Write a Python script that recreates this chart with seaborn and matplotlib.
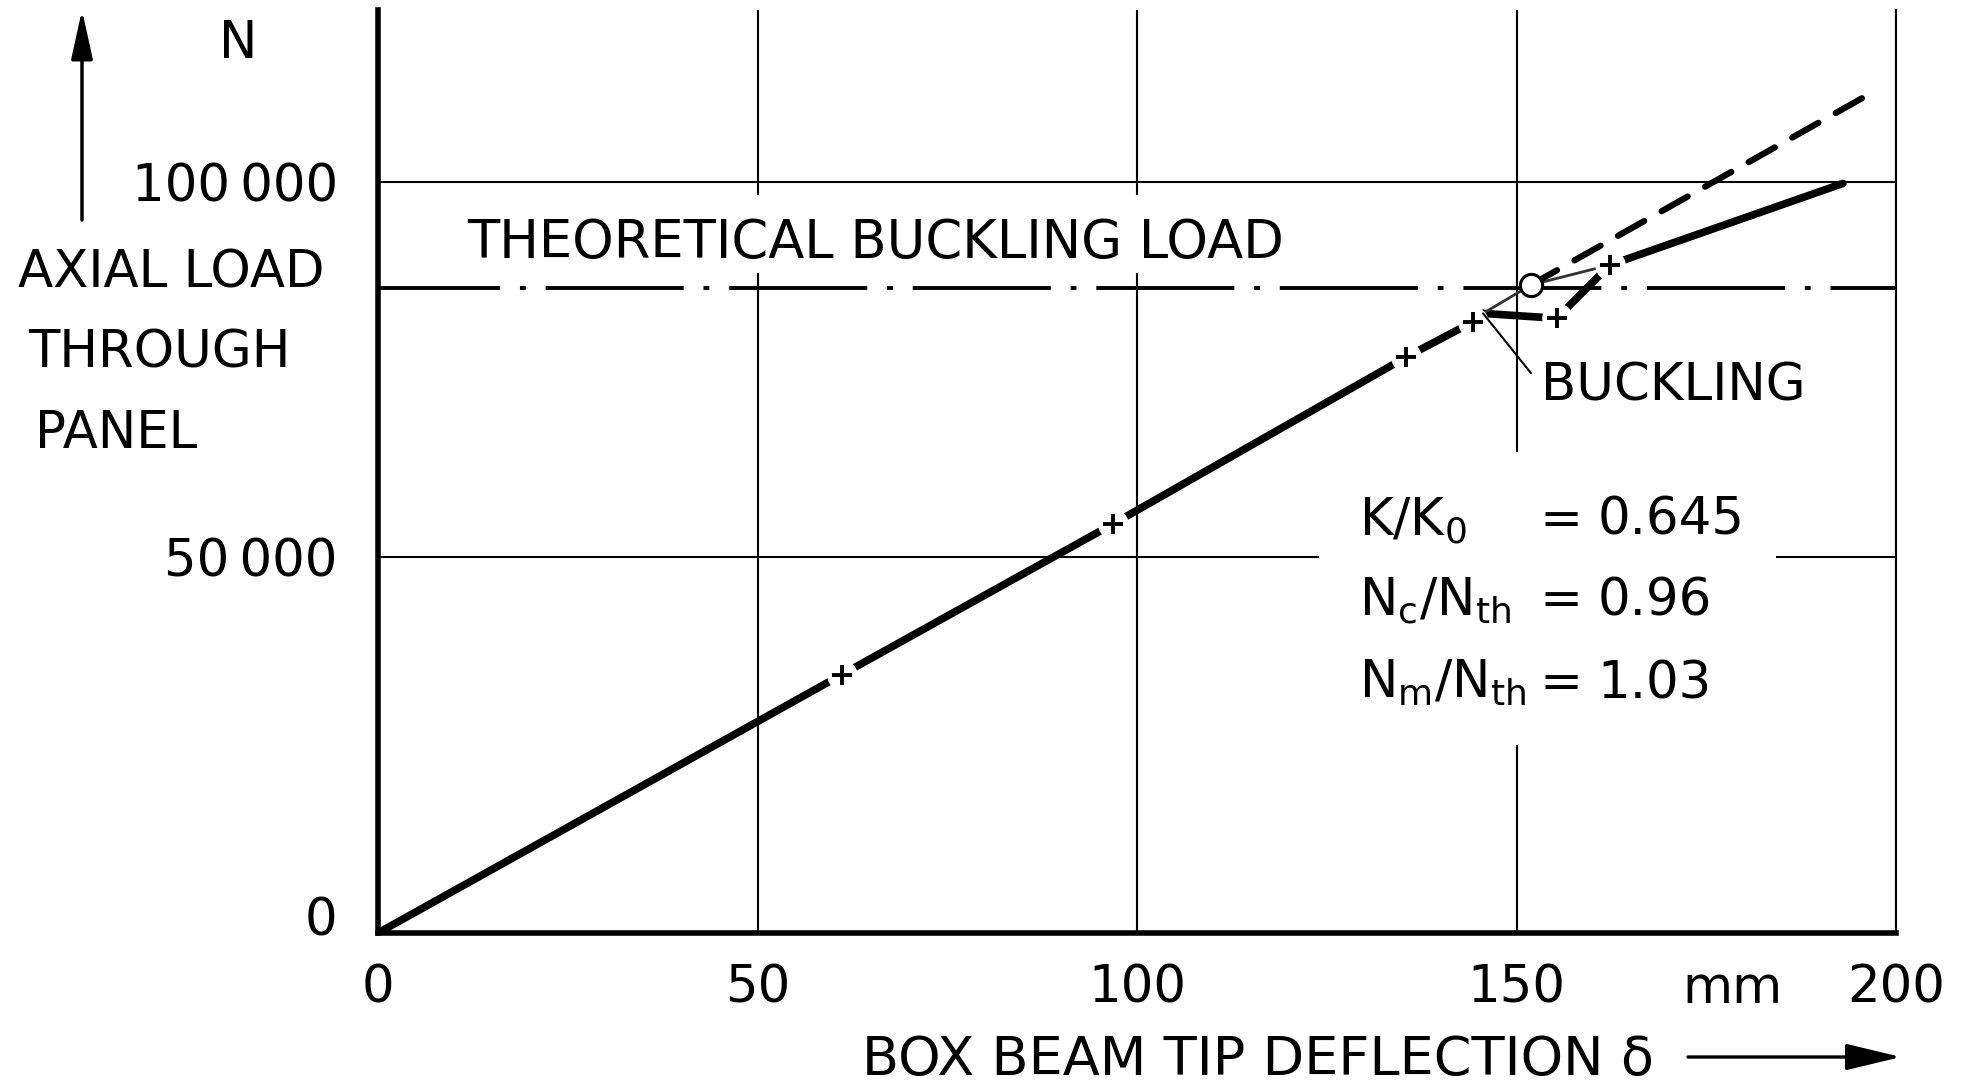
import matplotlib
matplotlib.use("Agg")
import matplotlib.pyplot as plt
import seaborn as sns
from matplotlib.patches import Rectangle
from matplotlib.transforms import ScaledTranslation

# values (deflection in mm, axial load in N)
load_defl = [0, 61.1, 96.9, 135.5, 144.3, 145.6]
load_force = [0, 34400, 54500, 76700, 81400, 82500]
post_defl = [145.6, 155.3, 162.3, 193.0]
post_force = [82500, 81850, 88950, 99800]
mark_defl = [61.1, 96.9, 135.5, 144.3, 155.3, 162.3]
mark_force = [34400, 54500, 76700, 81400, 81850, 88950]
thin_defl = [145.6, 151.9, 162.3]
thin_force = [82500, 86290, 88950]
crit_defl = [151.9]
crit_force = [86290]
extrap_defl = [151.9, 197.0]
extrap_force = [86290, 112000]
theory_load = 85900

x_ticks = [0, 50, 100, 150, 200]
y_ticks = [0, 50000, 100000]
y_ticklabels = ["0", "50\u2009000", "100\u2009000"]

ratio_labels = [r"K/K$_0$", r"N$_c$/N$_{th}$", r"N$_m$/N$_{th}$"]
ratio_values = ["0.645", "0.96", "1.03"]

sns.set_theme(style="white")
plt.rcParams["font.family"] = ["DejaVu Sans"]
plt.rcParams["mathtext.default"] = "regular"
plt.rcParams["text.color"] = "black"
FS = 37

W, H = 1964, 1090
fig = plt.figure(figsize=(W / 100, H / 100), dpi=100)
ax = fig.add_axes([378 / W, 157 / H, (1896 - 378) / W, 923 / H])
ax.set_xlim(0, 200)
ax.set_ylim(0, 122900)

# grid and frame
ax.set_xticks(x_ticks)
ax.set_yticks(y_ticks, y_ticklabels)
ax.grid(True, color="black", lw=1.5)
for side in ["left", "bottom"]:
    ax.spines[side].set_linewidth(4.0)
    ax.spines[side].set_color("black")
ax.spines["right"].set_linewidth(1.5)
ax.spines["right"].set_color("black")
ax.spines["top"].set_visible(False)
ax.tick_params(axis="x", length=0, labelsize=FS, pad=22, colors="black")
ax.tick_params(axis="y", length=0, labelsize=FS, pad=29, colors="black")
zero_lbl = ax.get_yticklabels()[0]
zero_lbl.set_transform(zero_lbl.get_transform() + ScaledTranslation(0, 0.17, fig.dpi_scale_trans))
ax.set_xlabel("")
ax.set_ylabel("")

# white patches where text interrupts the grid
ax.add_patch(Rectangle((124, 25000), 60.2, 39000, fc="white", ec="none", zorder=1))
ax.add_patch(Rectangle((9.5, 87900), 112, 10400, fc="white", ec="none", zorder=1))

# theoretical buckling load
ax.axhline(theory_load, color="black", lw=2.8, linestyle=(4.1, (35.5, 5.1, 1.5, 5.1)), zorder=3)

# measured curves
sns.lineplot(x=load_defl, y=load_force, ax=ax, color="black", lw=5.5, estimator=None,
             sort=False, solid_capstyle="round", zorder=2)
sns.lineplot(x=post_defl, y=post_force, ax=ax, color="black", lw=5.5, estimator=None,
             sort=False, solid_capstyle="round", zorder=2)
sns.lineplot(x=thin_defl, y=thin_force, ax=ax, color="#333333", lw=2.0, estimator=None,
             sort=False, zorder=2)
ax.plot(extrap_defl, extrap_force, color="black", lw=4.5, linestyle=(0, (4.8, 3.2)),
        dash_capstyle="round", zorder=3)

# measuring points
ax.plot(mark_defl, mark_force, ls="none", marker="o", ms=22, mfc="white", mec="none", zorder=2.5)
ax.plot(mark_defl, mark_force, ls="none", marker="+", ms=15, mew=2.8, color="black", zorder=4)
ax.plot(crit_defl, crit_force, ls="none", marker="o", ms=16, mfc="white", mec="black", mew=2.2, zorder=5)

# labels inside the plot
ax.text(11.7, 89880, "THEORETICAL BUCKLING LOAD", fontsize=38, ha="left", va="baseline", zorder=4)
ax.annotate("", xy=(145.6, 82500), xytext=(151.9, 74560),
            arrowprops=dict(arrowstyle="-", lw=1.5, color="black", shrinkA=0, shrinkB=0))
ax.text(153.2, 70970, "BUCKLING", fontsize=FS, ha="left", va="baseline")

ratio_base = [53000, 42340, 31290]
for lab, val, yb in zip(ratio_labels, ratio_values, ratio_base):
    ax.text(129.3, yb, lab, fontsize=FS, ha="left", va="baseline", zorder=4)
    ax.text(153.0, yb, "=", fontsize=FS, ha="left", va="baseline", zorder=4)
    ax.text(160.7, yb, val, fontsize=FS, ha="left", va="baseline", zorder=4)

ax.annotate("mm", xy=(178.5, 0), xycoords=("data", "axes fraction"), xytext=(0, -22),
            textcoords="offset points", ha="center", va="top", fontsize=FS)

# axis titles outside the frame
fig.text(238 / W, 1 - 58 / H, "N", fontsize=FS, ha="center", va="baseline")
fig.text(18 / W, 1 - 288 / H, "AXIAL LOAD", fontsize=FS, ha="left", va="baseline")
fig.text(28 / W, 1 - 368 / H, "THROUGH", fontsize=FS, ha="left", va="baseline")
fig.text(35 / W, 1 - 448 / H, "PANEL", fontsize=FS, ha="left", va="baseline")
fig.text(862 / W, 1 - 1075 / H, "BOX BEAM TIP DEFLECTION \u03b4", fontsize=39, ha="left", va="baseline")

ax.annotate("", xy=(82 / W, 1 - 10 / H), xytext=(82 / W, 1 - 220 / H), xycoords="figure fraction",
            arrowprops=dict(arrowstyle="-|>,head_length=1.0,head_width=0.22", mutation_scale=30,
                            lw=2.5, color="black", shrinkA=0, shrinkB=0))
ax.annotate("", xy=(1901 / W, 1 - 1057 / H), xytext=(1688 / W, 1 - 1057 / H), xycoords="figure fraction",
            arrowprops=dict(arrowstyle="-|>,head_length=1.0,head_width=0.24", mutation_scale=34,
                            lw=2.4, color="black", shrinkA=0, shrinkB=0))

fig.savefig("out.png", dpi=100, facecolor="white")
